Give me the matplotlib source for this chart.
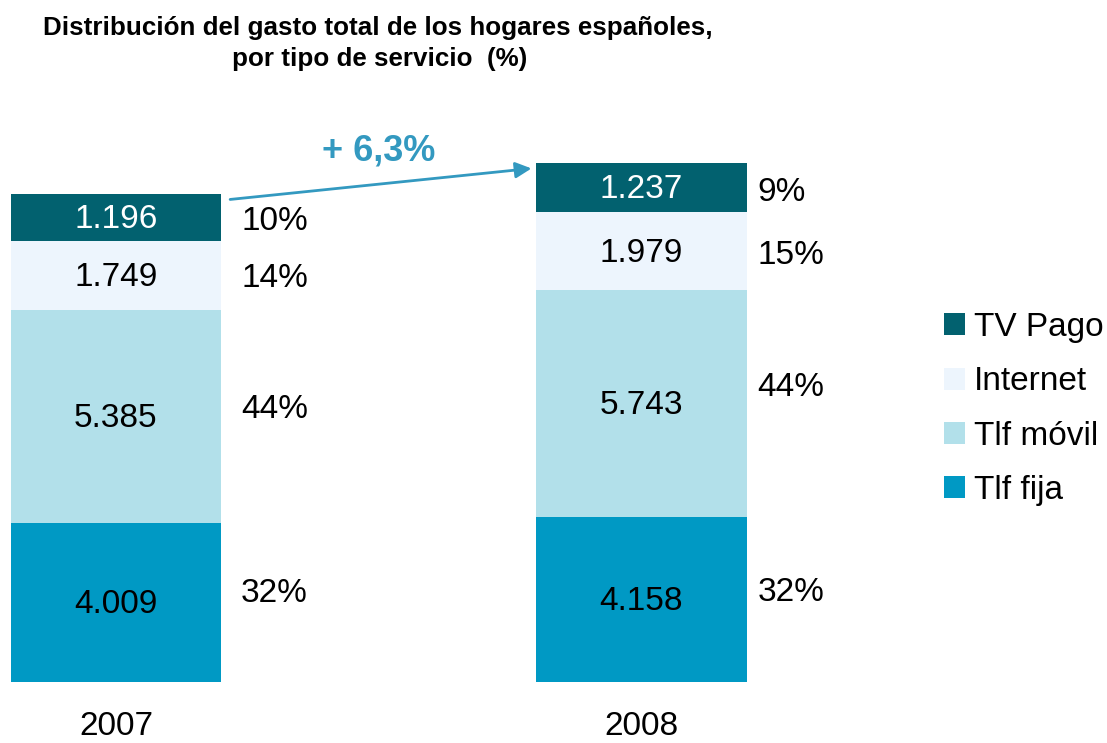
import numpy as np
import matplotlib.pyplot as plt
from matplotlib.patches import Patch

# Data (millones de euros)
years = ['2007', '2008']
services = ['Tlf fija', 'Tlf móvil', 'Internet', 'TV Pago']
tlf_fija = [4009, 4158]
tlf_movil = [5385, 5743]
internet = [1749, 1979]
tv_pago = [1196, 1237]
shares_2007 = ['32%', '44%', '14%', '10%']
shares_2008 = ['32%', '44%', '15%', '9%']
title_lines = ['Distribución del gasto total de los hogares españoles,',
               'por tipo de servicio  (%)']

colors = ['#0099c4', '#b2e0ea', '#edf5fd', '#02616f']
text_colors = ['black', 'black', 'black', 'white']
arrow_color = '#3399c0'

plt.rcParams['font.family'] = ['Liberation Sans', 'DejaVu Sans']

series = np.array([tlf_fija, tlf_movil, internet, tv_pago])
totals = series.sum(axis=0)
growth = (totals[1] / totals[0] - 1) * 100

fig = plt.figure(figsize=(11.07, 7.43), dpi=100)
ax = fig.add_axes([0, 0.0821, 1, 0.6985])
x = np.arange(len(years))
width = 0.4
ax.set_xlim(-0.2207, 1.886)
ax.set_ylim(0, totals[1])
ax.axis('off')

bottom = np.zeros(len(years))
# small nudges (pixels) of the % labels, as in the original layout
share_dx = [20, 11]
share_dy = [[9, 7, -3, -4], [7, 16, -4, -5]]
for i, vals in enumerate(series):
    ax.bar(x, vals, width, bottom=bottom, color=colors[i], linewidth=0)
    for j in range(len(years)):
        yc = bottom[j] + vals[j] / 2
        ax.annotate(f'{vals[j] / 1000:.3f}', (x[j], yc), xytext=(0, -2),
                    textcoords='offset pixels', ha='center', va='center',
                    fontsize=24, color=text_colors[i])
        share = [shares_2007, shares_2008][j][i]
        ax.annotate(share, (x[j] + width / 2, yc), xytext=(share_dx[j], share_dy[j][i]),
                    textcoords='offset pixels', ha='left', va='center', fontsize=24)
    bottom += vals

for j, yr in enumerate(years):
    ax.annotate(yr, (x[j], 0), xytext=(0, -45), textcoords='offset pixels',
                ha='center', va='center', fontsize=24)

# growth arrow between the two bars
ax.annotate('', xy=(x[1] - width / 2 - 0.004, totals[1] - 130),
            xytext=(x[0] + width / 2 + 0.012, totals[0] - 150),
            arrowprops=dict(arrowstyle='-|>', color=arrow_color, lw=2, mutation_scale=24))
ax.text((x[0] + x[1]) / 2, totals[1] + 300, f'+ {growth:.1f}%'.replace('.', ','),
        ha='center', va='center', fontsize=26, fontweight='bold', color=arrow_color)

fig.text(378 / 1107, 1 - 35 / 743, title_lines[0], ha='center', va='baseline',
         fontsize=18.7, fontweight='bold')
fig.text(380 / 1107, 1 - 66 / 743, title_lines[1], ha='center', va='baseline',
         fontsize=18.7, fontweight='bold')

handles = [Patch(facecolor=colors[i], label=services[i]) for i in range(3, -1, -1)]
fig.legend(handles=handles, loc='upper left', bbox_to_anchor=(944 / 1107, 1 - 312 / 743),
           frameon=False, fontsize=24, handlelength=0.64, handleheight=0.64,
           handletextpad=0.25, labelspacing=0.7, borderpad=0, borderaxespad=0)

fig.savefig('out.png', dpi=100)
